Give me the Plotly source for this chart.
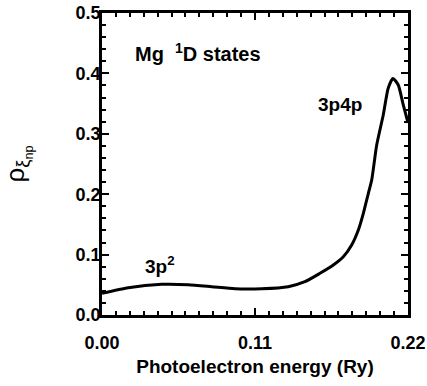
import plotly.graph_objects as go

energy = [0.0, 0.0189, 0.0429, 0.0620, 0.0789, 0.0956, 0.1148, 0.1339, 0.1459,
          0.1567, 0.1663, 0.1735, 0.1795, 0.1843, 0.1879, 0.1915, 0.1939, 0.1975,
          0.2022, 0.2058, 0.2092, 0.2130, 0.2166, 0.2195, 0.22]
rho = [0.0359, 0.0452, 0.0508, 0.0502, 0.0469, 0.0435, 0.0435, 0.0469, 0.0551,
       0.0690, 0.0828, 0.0965, 0.1159, 0.1407, 0.1683, 0.2015, 0.2235, 0.2815,
       0.3311, 0.3757, 0.3916, 0.3808, 0.3477, 0.3228, 0.318]

x_tickvals = [0.0, 0.11, 0.22]
x_ticktext = ["0.00", "0.11", "0.22"]
y_tickvals = [0.0, 0.1, 0.2, 0.3, 0.4, 0.5]
y_ticktext = ["0.0", "0.1", "0.2", "0.3", "0.4", "0.5"]

FONT = "Liberation Sans, Arial, sans-serif"
TICKFONT = dict(family=FONT, size=18, color="black", weight="bold")

fig = go.Figure()
fig.add_trace(go.Scatter(x=energy, y=rho, mode="lines",
                         line=dict(color="black", width=3, shape="spline", smoothing=0.6),
                         showlegend=False))
# invisible trace to carry the mirrored (top/right) tick axes
fig.add_trace(go.Scatter(x=[energy[0]], y=[rho[0]], mode="markers", xaxis="x2", yaxis="y2",
                         marker=dict(opacity=0), showlegend=False, hoverinfo="skip"))

axis_common = dict(showline=True, linecolor="black", linewidth=2.5,
                   ticks="inside", ticklen=7, tickwidth=2, tickcolor="black",
                   showgrid=False, zeroline=False, automargin=False)

fig.update_layout(
    xaxis=dict(range=[0, 0.22], tickvals=x_tickvals, ticktext=x_ticktext,
               minor=dict(dtick=0.01, tick0=0, ticks="inside", ticklen=4, tickwidth=2, tickcolor="black"),
               tickfont=TICKFONT, ticklabelstandoff=10, ticklabeloverflow="allow",
               title=dict(text="Photoelectron energy (Ry)", standoff=8,
                          font=dict(family=FONT, size=19, color="black", weight="bold")),
               **axis_common),
    yaxis=dict(range=[0, 0.5], tickvals=y_tickvals, ticktext=y_ticktext,
               minor=dict(dtick=0.02, tick0=0, ticks="inside", ticklen=4, tickwidth=2, tickcolor="black"),
               tickfont=TICKFONT, ticklabelstandoff=-5, ticklabeloverflow="allow",
               title=dict(text="ρ<sub>ξ<sub>np</sub></sub>", standoff=57,
                          font=dict(family=FONT, size=26, color="black")),
               **axis_common),
    xaxis2=dict(range=[0, 0.22], overlaying="x", side="top", anchor="y", tickvals=x_tickvals,
                showticklabels=False,
                minor=dict(dtick=0.01, tick0=0, ticks="inside", ticklen=4, tickwidth=2, tickcolor="black"),
                **axis_common),
    yaxis2=dict(range=[0, 0.5], overlaying="y", side="right", anchor="x", tickvals=y_tickvals,
                showticklabels=False,
                minor=dict(dtick=0.02, tick0=0, ticks="inside", ticklen=4, tickwidth=2, tickcolor="black"),
                **axis_common),
)

annot_font = dict(family=FONT, size=19, color="black", weight="bold")
fig.add_annotation(x=0.0687, y=0.434, xref="x", yref="y", text="Mg&nbsp;&nbsp;<sup>1</sup>D states",
                   showarrow=False, font=dict(family=FONT, size=20, color="black", weight="bold"))
fig.add_annotation(x=0.171, y=0.348, xref="x", yref="y", text="3p4p",
                   showarrow=False, font=annot_font)
fig.add_annotation(x=0.042, y=0.083, xref="x", yref="y", text="3p<sup>2</sup>",
                   showarrow=False, font=annot_font)

fig.update_layout(width=427, height=386, margin=dict(l=102, r=19, t=13, b=71),
                  plot_bgcolor="white", paper_bgcolor="white")

# remove the page's default 8px body margin so the figure fills the window
fig.write_html("out.html", config={"displayModeBar": False},
               post_script="document.body.style.margin='0';")
